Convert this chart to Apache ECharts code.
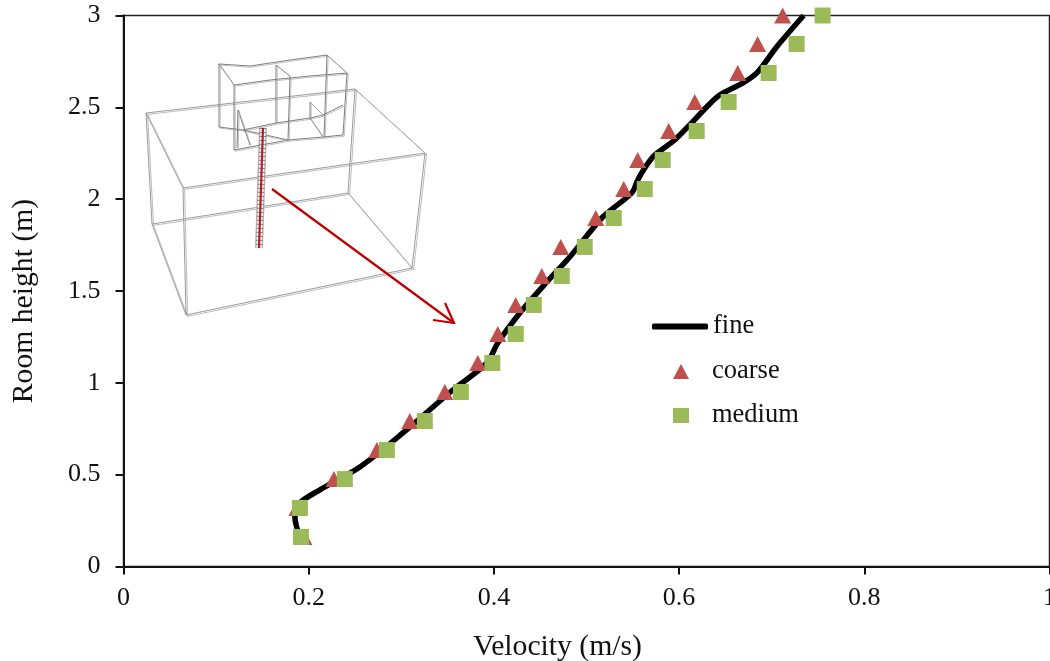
<!DOCTYPE html>
<html><head><meta charset="utf-8">
<style>html,body{margin:0;padding:0;background:#fff;overflow:hidden}#c{width:1050px;height:661px}</style>
<script src="https://cdn.jsdelivr.net/npm/echarts@6/dist/echarts.min.js"></script>
</head><body><div id="c"></div>
<script>
const heights = [0.161,0.319,0.476,0.634,0.792,0.950,1.108,1.266,1.424,1.582,1.740,1.897,2.055,2.213,2.371,2.529,2.687,2.845,3.0];
const coarseVelocity = [0.1948,0.1873,0.2272,0.2736,0.3092,0.347,0.3826,0.4042,0.4236,0.4517,0.4722,0.51,0.5402,0.5553,0.5888,0.6169,0.6633,0.6848,0.7118];
const mediumVelocity = [0.1916,0.1905,0.239,0.2844,0.3254,0.3643,0.3983,0.4236,0.4431,0.4733,0.4981,0.5294,0.5629,0.5823,0.619,0.6535,0.6967,0.7269,0.755];
const fineVelocity = [0.1905,0.1851,0.1905,0.2121,0.2553,0.3017,0.3556,0.3923,0.4042,0.428,0.4571,0.4819,0.5176,0.5489,0.5553,0.5629,0.5737,0.5952,0.6114,0.6298,0.6438,0.6686,0.6848,0.7053,0.7345];
const fineHeight = [0.161,0.27,0.346,0.417,0.542,0.727,0.961,1.108,1.217,1.38,1.549,1.685,1.903,2.034,2.104,2.17,2.24,2.322,2.404,2.502,2.567,2.632,2.692,2.829,3.0];
const zip = (a,b)=>a.map((v,i)=>[v,b[i]]);

// inset sketch of the room (decorative picture)
const roomLines = [
 [[146,113],[355,89],[425,153],[183,188],[146,113]],
 [[186,315],[412,268],[348,193],[152,224],[186,315]],
 [[146,113],[152,224]],[[355,89],[348,193]],[[425,153],[412,268]],[[183,188],[186,315]]
];
const cabinLines = [
 [[219,64],[250,66],[290,60],[327,55],[347,73],[310,76],[270,80],[234,85],[219,64]],
 [[219,64],[219,127]],[[234,85],[234,150]],[[327,55],[324,137]],[[347,73],[343,135]],
 [[276,65],[276,123]],[[290,76],[288,140]],[[276,65],[290,76]],
 [[219,127],[243,130],[276,123],[310,118],[323,115],[343,105]],
 [[234,150],[288,140],[323,137],[343,135]],[[243,130],[288,140]],
 [[238,110],[250,145]],[[238,110],[237,148]],[[310,102],[323,115]],[[310,102],[310,118]],[[310,118],[323,137]]
];
const graphics = [];
const pl=(pts,stroke,w,z)=>({type:'polyline',silent:true,z:z||1,shape:{points:pts},style:{stroke,lineWidth:w,fill:null}});
roomLines.forEach(p=>{graphics.push(pl(p,'#8e8e8e',0.9));graphics.push(pl(p.map(q=>[q[0]+1.6,q[1]+1.4]),'#b4b4b4',0.9));});
cabinLines.forEach(p=>{graphics.push(pl(p,'#6e6e6e',0.9));graphics.push(pl(p.map(q=>[q[0]+1.2,q[1]+1.2]),'#b0b0b0',0.8));});
graphics.push(pl([[263,128],[259,248]],'rgba(170,150,150,0.75)',8));
graphics.push(pl([[263,128],[259,248]],'#ffffff',5));
graphics.push({type:'polyline',silent:true,z:1,shape:{points:[[263,128],[259,248]]},style:{stroke:'#888',lineWidth:7,lineDash:[1,3],fill:null}});
graphics.push(pl([[263,128],[259,248]],'#b01f2a',2.2));
graphics.push(pl([[272,189],[454,323]],'#c00000',2.2));
graphics.push(pl([[433,320],[454,323],[445,303]],'#c00000',2.2));

const font='"Liberation Serif"';
const legendText={fontFamily:font,fontSize:26.5,color:'#111'};
const chart=echarts.init(document.getElementById('c'),null,{renderer:'canvas'});
chart.setOption({
 animation:false,
 backgroundColor:'#fff',
 grid:{left:123.5,top:15.5,width:926,height:551,outerBoundsMode:'none',containLabel:false,show:true,borderColor:'#222',borderWidth:1.5,backgroundColor:'transparent'},
 xAxis:{type:'value',min:0,max:1,interval:0.2,name:'Velocity (m/s)',nameLocation:'middle',nameGap:66,
  nameTextStyle:{fontFamily:font,fontSize:29.7,color:'#111',padding:[0,58,0,0]},
  axisLine:{onZero:false,lineStyle:{color:'#111',width:2}},axisTick:{length:8,lineStyle:{color:'#111',width:2}},
  axisLabel:{fontFamily:font,fontSize:26,color:'#111',margin:19,showMinLabel:true,showMaxLabel:true,alignMinLabel:'center',alignMaxLabel:'center'},splitLine:{show:false}},
 yAxis:{type:'value',min:0,max:3,interval:0.5,name:'Room height (m)',nameLocation:'middle',nameGap:84,
  nameTextStyle:{fontFamily:font,fontSize:29.7,color:'#111',padding:[0,20,0,0]},
  axisLine:{onZero:false,lineStyle:{color:'#111',width:2}},axisTick:{length:8,lineStyle:{color:'#111',width:2}},
  axisLabel:{fontFamily:font,fontSize:26,color:'#111',margin:23,padding:[3,0,0,0]},splitLine:{show:false}},
 legend:[
  {left:652,top:313,padding:0,itemWidth:56,itemHeight:6,icon:'roundRect',selectedMode:false,itemStyle:{color:'#000'},textStyle:{...legendText,padding:[6,0,0,0]},data:['fine']},
  {left:673,top:358,padding:0,itemWidth:16,itemHeight:15,selectedMode:false,textStyle:{...legendText,padding:[6,0,0,18]},data:['coarse']},
  {left:673,top:402,padding:0,itemWidth:16,itemHeight:15,selectedMode:false,textStyle:{...legendText,padding:[6,0,0,18]},data:['medium']}
 ],
 graphic:graphics,
 series:[
  {name:'fine',type:'line',data:zip(fineVelocity,fineHeight),smooth:0.3,showSymbol:false,symbol:'none',lineStyle:{color:'#000',width:5.5},itemStyle:{color:'#000'},z:3},
  {name:'coarse',type:'scatter',data:zip(coarseVelocity,heights),symbol:'triangle',symbolSize:[17,16],clip:false,itemStyle:{color:'#c0504d',opacity:1},z:4},
  {name:'medium',type:'scatter',data:zip(mediumVelocity,heights),symbol:'rect',symbolSize:16,clip:false,itemStyle:{color:'#9bbb59',opacity:1},z:5}
 ]
});
</script></body></html>
